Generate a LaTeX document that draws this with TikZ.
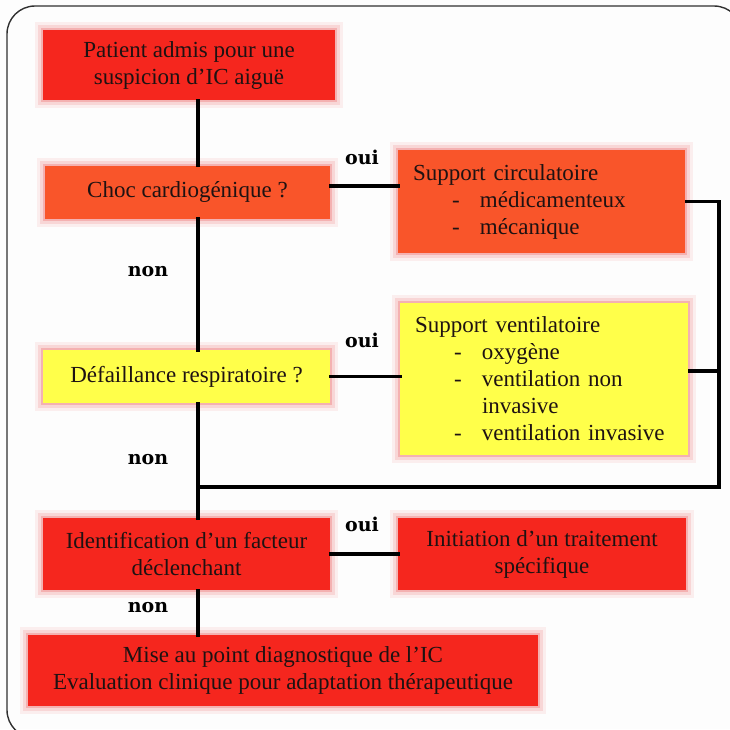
\documentclass[tikz,border=0pt]{standalone}
\usepackage{fontspec}
\setmainfont{Liberation Serif}
\newfontfamily\lblfont{DejaVu Serif}
\definecolor{boxred}{HTML}{F5261E}
\definecolor{boxorange}{HTML}{F9552A}
\definecolor{boxyellow}{HTML}{FFFF4A}
\definecolor{glowc}{HTML}{EE6E6E}
\definecolor{txt}{HTML}{1E1212}
\definecolor{framec}{HTML}{303030}
\definecolor{bg}{HTML}{FDFDFD}
\begin{document}
\begin{tikzpicture}[x=1pt,y=-1pt,
  every node/.style={font=\fontsize{23}{27}\selectfont, text=txt},
  box/.style={fill=#1, inner sep=0pt, align=center,
    preaction={draw=glowc, draw opacity=0.10, line width=16pt, rounded corners=8pt},
    preaction={draw=glowc, draw opacity=0.18, line width=10pt, rounded corners=5pt},
    preaction={draw=glowc, draw opacity=0.35, line width=4pt}},
  listbox/.style={box=#1, align=left, inner xsep=15pt, inner ysep=0pt},
  lbl/.style={font=\lblfont\bfseries\fontsize{19}{22}\selectfont, text=black, inner sep=0pt},
  conn/.style={draw=black, line width=3.4pt, line cap=rect}]
\useasboundingbox (0,0) rectangle (730,729);
\clip (0,0) rectangle (730,729);
\fill[bg] (0,0) rectangle (730,729);
\draw[framec, line width=1.4pt, rounded corners=28pt] (7,6) rectangle (742,738);

\coordinate (sp) at (198,0);
\coordinate (rx) at (719,0);

\node[box=boxred, minimum width=292pt, minimum height=70pt] (b1) at (189,65)
  {Patient admis pour une\\suspicion d’IC aiguë};
\node[box=boxorange, minimum width=285pt, minimum height=53pt] (b2) at (187.5,192)
  {Choc cardiogénique ?};
\node[listbox=boxorange, text width=257pt, minimum width=287pt, minimum height=103pt] (b3) at (541.5,201.5)
  {Support circulatoire\\
   \hspace*{39pt}\makebox[28pt][l]{-}médicamenteux\\
   \hspace*{39pt}\makebox[28pt][l]{-}mécanique};
\node[box=boxyellow, minimum width=287pt, minimum height=53pt] (b4) at (186.5,376.5)
  {Défaillance respiratoire ?};
\node[listbox=boxyellow, text width=258pt, minimum width=288pt, minimum height=152pt] (b5) at (544,379)
  {Support ventilatoire\\
   \hspace*{39pt}\makebox[28pt][l]{-}oxygène\\
   \hspace*{39pt}\makebox[28pt][l]{-}ventilation non\\
   \hspace*{67pt}invasive\\
   \hspace*{39pt}\makebox[28pt][l]{-}ventilation invasive};
\node[box=boxred, minimum width=287pt, minimum height=72pt] (b6) at (186.5,554)
  {Identification d’un facteur\\déclenchant};
\node[box=boxred, minimum width=288pt, minimum height=72pt] (b7) at (542,554)
  {Initiation d’un traitement\\spécifique};
\node[box=boxred, minimum width=510pt, minimum height=71pt] (b8) at (283,670.5)
  {Mise au point diagnostique de l’IC\\Evaluation clinique pour adaptation thérapeutique};

\node[lbl] (o1) at (362,157) {oui};
\node[lbl] (o2) at (362,340) {oui};
\node[lbl] (o3) at (362,524) {oui};
\node[lbl] (n1) at (148,272) {non};
\node[lbl] (n2) at (148,460) {non};
\node[lbl] (n3) at (148,608) {non};

\coordinate (rb) at (719,487);

\draw[conn] (b1.south -| sp) -- (b2.north -| sp);
\draw[conn] (b2.south -| sp) -- (b4.north -| sp);
\draw[conn] (b4.south -| sp) -- (b6.north -| sp);
\draw[conn] (b6.south -| sp) -- (b8.north -| sp);
\draw[conn] ([yshift=6pt]b2.east) -- ([yshift=6pt]b2.east -| b3.west);
\draw[conn] (b4.east) -- (b4.east -| b5.west);
\draw[conn] (b6.east) -- (b6.east -| b7.west);
\draw[conn, line cap=butt] (b3.east) -- (b3.east -| rx) -- (rb) -- (rb -| sp);
\draw[conn, line cap=butt] ([yshift=8pt]b5.east) -- ([yshift=8pt]b5.east -| rx);
\end{tikzpicture}
\end{document}
